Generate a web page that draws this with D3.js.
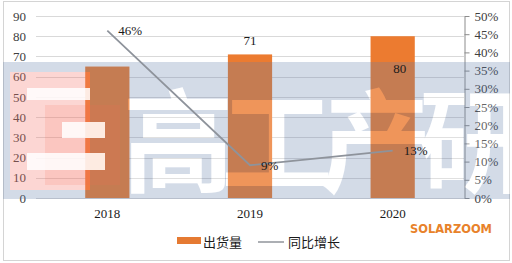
<!DOCTYPE html>
<html>
<head>
<meta charset="utf-8">
<script src="https://cdn.jsdelivr.net/npm/d3@7"></script>
<style>
  body { margin: 0; background: #fff; }
  svg { display: block; }
</style>
</head>
<body>
<script>
// data
var years = ["2018", "2019", "2020"];
var shipments = [65, 71, 80];          // 出货量
var growth = [0.46, 0.09, 0.13];       // 同比增长
var leftTicks = [0, 10, 20, 30, 40, 50, 60, 70, 80, 90];
var rightTicks = [0, 0.05, 0.10, 0.15, 0.20, 0.25, 0.30, 0.35, 0.40, 0.45, 0.50];
var legendNames = ["出货量", "同比增长"];
var watermarkText = ["高", "工", "产", "研"];

var W = 512, H = 263;
var plotL = 36, plotR = 464, plotT = 16, plotB = 198;

var svg = d3.select("body").append("svg")
  .attr("width", W).attr("height", H);

svg.append("rect").attr("width", W).attr("height", H).attr("fill", "#fff");

// outer frame
svg.append("rect")
  .attr("x", 3.5).attr("y", 1.5).attr("width", 506).attr("height", 259)
  .attr("fill", "none").attr("stroke", "#d4d4d4");

var x = d3.scaleBand().domain(years).range([plotL, plotR])
  .paddingInner(0.69).paddingOuter(0.345);
var y = d3.scaleLinear().domain([0, 90]).range([plotB, plotT]);
var y2 = d3.scaleLinear().domain([0, 0.5]).range([plotB, plotT]);

var serif = "'Liberation Serif', 'Times New Roman', serif";

// gridlines
svg.append("g").selectAll("line").data(leftTicks).enter().append("line")
  .attr("x1", plotL).attr("x2", plotR)
  .attr("y1", function(d){ return Math.round(y(d)) + 0.5; })
  .attr("y2", function(d){ return Math.round(y(d)) + 0.5; })
  .attr("stroke", "#d9d9d9");

// left axis labels
var ax = svg.append("g").attr("transform", "translate(" + plotL + ",0)")
  .call(d3.axisLeft(y).tickValues(leftTicks).tickSize(0).tickPadding(10));
ax.select(".domain").remove();
ax.selectAll("text").attr("font-family", serif).attr("font-size", 13).attr("fill", "#404040");

// right axis
var ax2 = svg.append("g").attr("transform", "translate(" + (plotR + 0.5) + ",0)")
  .call(d3.axisRight(y2).tickValues(rightTicks).tickSize(5).tickSizeOuter(0).tickPadding(5)
    .tickFormat(d3.format(".0%")));
ax2.select(".domain").attr("stroke", "#8c8c8c");
ax2.selectAll(".tick line").attr("stroke", "#8c8c8c");
ax2.selectAll("text").attr("font-family", serif).attr("font-size", 13).attr("fill", "#404040");

// x labels
svg.append("g").selectAll("text").data(years).enter().append("text")
  .attr("x", function(d){ return x(d) + x.bandwidth() / 2; })
  .attr("y", 218)
  .attr("text-anchor", "middle")
  .attr("font-family", serif).attr("font-size", 13).attr("fill", "#1a1a1a")
  .text(function(d){ return d; });

// bars
svg.append("g").selectAll("rect").data(shipments).enter().append("rect")
  .attr("x", function(d, i){ return x(years[i]); })
  .attr("width", x.bandwidth())
  .attr("y", function(d){ return y(d); })
  .attr("height", function(d){ return plotB - y(d); })
  .attr("fill", "#ec7b30");

// WATERMARK: bluish band with the characters cut out, plus logo
var defs = svg.append("defs");
var mask = defs.append("mask").attr("id", "wm");
mask.append("rect").attr("width", W).attr("height", H).attr("fill", "#fff");
var logoPink = [[10, 72, 80, 118]];
var logoPink2 = [[45, 105, 75, 80]];
var logoWhite = [[27, 88, 63, 12], [62, 122, 43, 16], [27, 153, 78, 17]];
logoPink.concat(logoWhite).forEach(function(r){
  mask.append("rect").attr("x", r[0]).attr("y", r[1]).attr("width", r[2]).attr("height", r[3]).attr("fill", "#000");
});
function wmText(sel, fill){
  sel.selectAll("text.wm").data(watermarkText).enter().append("text")
    .attr("class", "wm")
    .attr("x", function(d, i){ return 178 + i * 99; })
    .attr("y", 184)
    .attr("text-anchor", "middle")
    .attr("font-family", "'Noto Sans CJK SC', sans-serif")
    .attr("font-weight", 700)
    .attr("font-size", 112)
    .attr("fill", fill)
    .text(function(d){ return d; });
}
wmText(mask, "#000");

svg.append("rect")
  .attr("x", 3).attr("y", 62).attr("width", 507).attr("height", 137)
  .attr("fill", "rgb(100,128,172)").attr("opacity", 0.28)
  .attr("mask", "url(#wm)");

var logo = svg.append("g");
logoPink.forEach(function(r){
  logo.append("rect").attr("x", r[0]).attr("y", r[1]).attr("width", r[2]).attr("height", r[3])
    .attr("fill", "rgb(245,120,110)").attr("opacity", 0.3);
});
logoPink2.forEach(function(r){
  logo.append("rect").attr("x", r[0]).attr("y", r[1]).attr("width", r[2]).attr("height", r[3])
    .attr("fill", "rgb(245,110,90)").attr("opacity", 0.15);
});
logoWhite.forEach(function(r){
  logo.append("rect").attr("x", r[0]).attr("y", r[1]).attr("width", r[2]).attr("height", r[3])
    .attr("fill", "#fff").attr("opacity", 0.85);
});
var wmG = svg.append("g").attr("opacity", 0.2);
wmText(wmG, "#fff");

// growth line
var pts = growth.map(function(d, i){ return [x(years[i]) + x.bandwidth() / 2, y2(d)]; });
svg.append("path")
  .attr("d", d3.line()(pts))
  .attr("fill", "none").attr("stroke", "#8e939b").attr("stroke-width", 1.75);

// data labels
svg.append("g").selectAll("text").data(growth).enter().append("text")
  .attr("x", function(d, i){ return pts[i][0] + 11; })
  .attr("y", function(d, i){ return pts[i][1]; })
  .attr("dy", "0.35em")
  .attr("font-family", serif).attr("font-size", 13).attr("fill", "#1a1a1a")
  .text(function(d){ return d3.format(".0%")(d); });

// bar labels: the 2018 bar carries none in the original
svg.append("g").selectAll("text").data(shipments.slice(1)).enter().append("text")
  .attr("x", function(d, i){ return x(years[i + 1]) + x.bandwidth() / 2 + (i === 1 ? 7 : 0); })
  .attr("y", function(d, i){ return i === 1 ? y(d) + 37 : y(d) - 9; })
  .attr("text-anchor", "middle")
  .attr("font-family", serif).attr("font-size", 13).attr("fill", "#1a1a1a")
  .text(function(d){ return d; });

// legend
var lg = svg.append("g").attr("font-family", "'Noto Sans CJK SC', sans-serif").attr("font-size", 13).attr("fill", "#1a1a1a");
lg.append("rect").attr("x", 177).attr("y", 237).attr("width", 24).attr("height", 7).attr("fill", "#e57a32");
lg.append("text").attr("x", 203).attr("y", 242).attr("dy", "0.35em").text(legendNames[0]);
lg.append("line").attr("x1", 258).attr("x2", 284).attr("y1", 242).attr("y2", 242)
  .attr("stroke", "#a0a4aa").attr("stroke-width", 1.75);
lg.append("text").attr("x", 288).attr("y", 242).attr("dy", "0.35em").text(legendNames[1]);

// SOLARZOOM mark
svg.append("text")
  .attr("x", 410).attr("y", 233)
  .attr("textLength", 82).attr("lengthAdjust", "spacingAndGlyphs")
  .attr("font-family", "'DejaVu Sans', sans-serif").attr("font-weight", "bold")
  .attr("font-size", 13).attr("fill", "#e8822a")
  .text("SOLARZOOM");
</script>
</body>
</html>
